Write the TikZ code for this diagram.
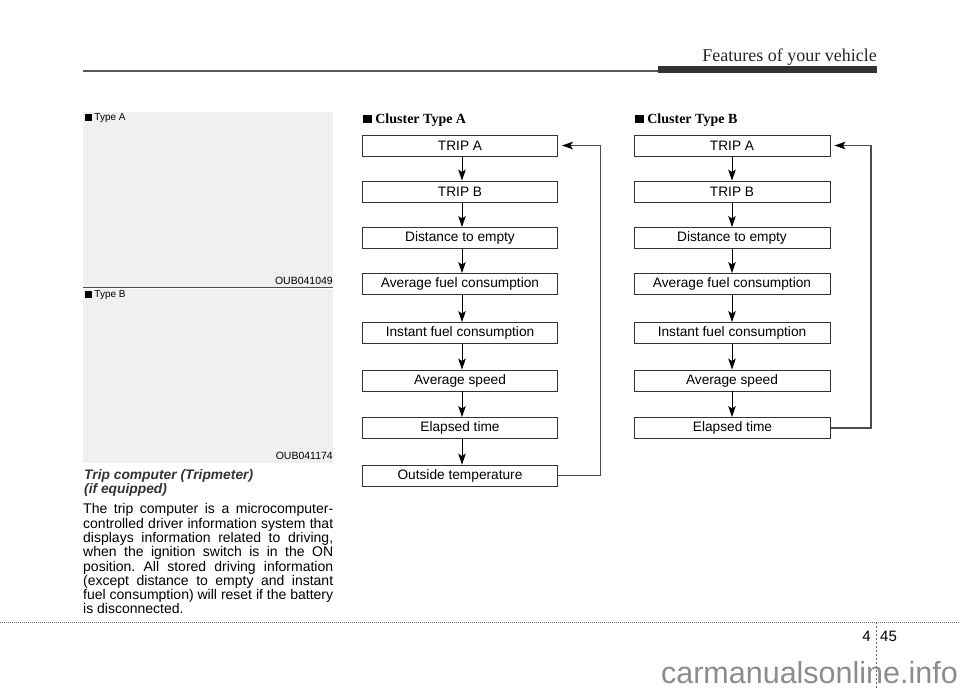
\documentclass[tikz,border=0pt]{standalone}
\usepackage{fontspec}
\setmainfont{Liberation Sans}
\newfontfamily\hdserif{Liberation Serif}
\usetikzlibrary{arrows.meta}
\frenchspacing
\begin{document}
\frenchspacing
\begin{tikzpicture}[x=1pt,y=-1pt,
  flow/.style={draw=black!80, line width=0.9pt, minimum width=195pt, minimum height=21pt, inner sep=0pt, font=\fontsize{13.7}{15}\selectfont},
  arr/.style={-{Stealth[length=11pt,width=7.5pt,inset=2.5pt]}, line width=0.9pt},
  fb/.style={draw=black!70, line width=1.1pt, -{Stealth[length=11pt,width=7.5pt,inset=2.5pt,fill=black,color=black]}, shorten >=4pt},
  small/.style={inner sep=0pt, font=\fontsize{10}{11}\selectfont},
  code/.style={inner sep=0pt, font=\fontsize{10.5}{12}\selectfont},
  clhead/.style={inner sep=0pt, anchor=west, font=\hdserif\bfseries\fontsize{14}{16}\selectfont},
  ttl/.style={anchor=base west, inner sep=0pt, font=\fontsize{13.8}{15}\selectfont\bfseries\itshape, text=black!80},
  panel/.style={fill=black!6}
]
\useasboundingbox (0,0) rectangle (960,689);
% header
\node[anchor=base east, inner sep=0pt, font=\hdserif\fontsize{18}{20}\selectfont, text=black!85] (hdr) at (877,61.7) {Features of your vehicle};
\fill[black!65] (83,70.3) rectangle (660,72.3);
\fill[black!80] (658,65.5) rectangle (877,72.5);
% left panels
\fill[panel] (83,112) rectangle (333,287);
\draw[black!70, line width=1.5pt] (83,287.5) -- (333,287.5);
\fill[panel] (83,289) rectangle (333,463);
\node[small, anchor=west] (ta) at (85,118.5) {\rule{0.65em}{0.65em} Type A};
\node[code, anchor=east] (ca) at (333,281) {OUB041049};
\node[small, anchor=west] (tb) at (85,295.5) {\rule{0.65em}{0.65em} Type B};
\node[code, anchor=east] (cb) at (333,456) {OUB041174};
% text
\node[ttl] (t1) at (84,479.5) {Trip computer (Tripmeter)};
\node[ttl] (t2) at (84,493.5) {(if equipped)};
\node[anchor=north west, inner sep=0pt, text width=250pt, align=justify, font=\fontsize{14}{14.3}\selectfont] (body) at (83,503.5)
{\frenchspacing The trip computer is a microcomputer-\linebreak controlled driver information system that\linebreak displays information related to driving,\linebreak when the ignition switch is in the ON\linebreak position. All stored driving information\linebreak (except distance to empty and instant\linebreak fuel consumption) will reset if the battery\linebreak is disconnected.};
% cluster A
\node[clhead] (ha) at (363,120) {\rule{0.62em}{0.62em} Cluster Type A};
\node[flow] (a1) at (460,145.5) {TRIP A};
\node[flow] (a2) at (460,191.5) {TRIP B};
\node[flow] (a3) at (460,238) {Distance to empty};
\node[flow] (a4) at (460,284) {Average fuel consumption};
\node[flow] (a5) at (460,333) {Instant fuel consumption};
\node[flow] (a6) at (460,380.5) {Average speed};
\node[flow] (a7) at (460,428) {Elapsed time};
\node[flow] (a8) at (460,475.5) {Outside temperature};
\foreach \i/\j in {1/2,2/3,3/4,4/5,5/6,6/7,7/8}
  \draw[arr] ([xshift=2pt]a\i.south) -- ([xshift=2pt]a\j.north);
\draw[fb] (a8.east) -| ([xshift=42.5pt]a1.east) -- (a1.east);
% cluster B
\node[clhead] (hb) at (635,120) {\rule{0.62em}{0.62em} Cluster Type B};
\node[flow, minimum width=196pt] (b1) at (732,145.5) {TRIP A};
\node[flow, minimum width=196pt] (b2) at (732,191.5) {TRIP B};
\node[flow, minimum width=196pt] (b3) at (732,238) {Distance to empty};
\node[flow, minimum width=196pt] (b4) at (732,284) {Average fuel consumption};
\node[flow, minimum width=196pt] (b5) at (732,333) {Instant fuel consumption};
\node[flow, minimum width=196pt] (b6) at (732,380.5) {Average speed};
\node[flow, minimum width=196pt] (b7) at (732.5,428) {Elapsed time};
\foreach \i/\j in {1/2,2/3,3/4,4/5,5/6,6/7}
  \draw[arr] (b\i.south) -- (b\i.south |- b\j.north);
\draw[fb] (b7.east) -| ([xshift=40.5pt]b1.east) -- (b1.east);
% footer
\draw[black!60, dash pattern=on 1pt off 1pt, line width=0.6pt] (0,622) -- (960,622);
\draw[black!60, dash pattern=on 2pt off 2pt, line width=0.6pt] (876,622) -- (876,689);
\node[anchor=base east, inner sep=0pt, font=\fontsize{15}{17}\selectfont] (p4) at (871,641.5) {4};
\node[anchor=base west, inner sep=0pt, font=\fontsize{15}{17}\selectfont] (p45) at (880,641.5) {45};
\node[anchor=base east, inner sep=0pt, font=\fontsize{30.5}{34}\selectfont, text=black!45] (wm) at (958,683) {carmanualsonline.info};
\end{tikzpicture}
\end{document}
